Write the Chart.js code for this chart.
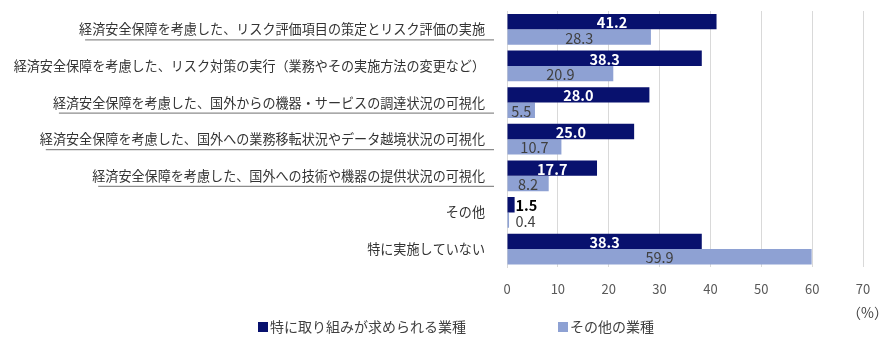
<!DOCTYPE html>
<html><head><meta charset="utf-8">
<script src="https://cdn.jsdelivr.net/npm/chart.js@4/dist/chart.umd.min.js"></script>
<style>html,body{margin:0;padding:0;background:#fff}#wrap{width:896px;height:347px;position:relative}</style>
</head><body><div id="wrap"><canvas id="c" width="896" height="347"></canvas></div>
<script>
const categories = [
  "経済安全保障を考慮した、リスク評価項目の策定とリスク評価の実施",
  "経済安全保障を考慮した、リスク対策の実行（業務やその実施方法の変更など）",
  "経済安全保障を考慮した、国外からの機器・サービスの調達状況の可視化",
  "経済安全保障を考慮した、国外への業務移転状況やデータ越境状況の可視化",
  "経済安全保障を考慮した、国外への技術や機器の提供状況の可視化",
  "その他",
  "特に実施していない"
];
const underlined = [true, false, true, true, true, false, false];
const seriesNames = ["特に取り組みが求められる業種", "その他の業種"];
const priorityValues = [41.2, 38.3, 28.0, 25.0, 17.7, 1.5, 38.3];
const otherValues = [28.3, 20.9, 5.5, 10.7, 8.2, 0.4, 59.9];
const xTicks = [0, 10, 20, 30, 40, 50, 60, 70];
const unitLabel = "（%）";

const DARK = "#08116e", LIGHT = "#8ea1d3";
const FONT = "'Noto Sans CJK JP', 'Noto Sans', sans-serif";
const LABEL_SIZE = 13.1;

const extras = {
  id: "extras",
  afterDraw(chart) {
    const ctx = chart.ctx;
    const ys = chart.scales.y;
    ctx.save();
    ctx.font = LABEL_SIZE + "px " + FONT;
    ctx.strokeStyle = "#8c8c8c";
    ctx.lineWidth = 1.3;
    categories.forEach((c, i) => {
      if (!underlined[i]) return;
      const w = ctx.measureText(c).width;
      const xr = 493;
      const y = ys.getPixelForTick(i) + 10.5;
      ctx.beginPath(); ctx.moveTo(xr - w - 2, y); ctx.lineTo(xr + 1, y); ctx.stroke();
    });
    ctx.restore();
    ctx.save();
    ctx.font = "14px " + FONT;
    ctx.fillStyle = "#404040";
    ctx.textAlign = "right"; ctx.textBaseline = "middle";
    ctx.fillText(unitLabel, 888, 313);
    ctx.restore();
    ctx.save();
    ctx.font = "14px " + FONT;
    ctx.textBaseline = "middle";
    const lx = [258, 558];
    chart.data.datasets.forEach((ds, i) => {
      ctx.fillStyle = ds.backgroundColor;
      ctx.fillRect(lx[i], 322, 10, 10);
      ctx.fillStyle = "#404040";
      ctx.textAlign = "left";
      ctx.fillText(ds.label, lx[i] + 12, 327);
    });
    ctx.restore();
  },
  afterDatasetsDraw(chart) {
    const ctx = chart.ctx;
    ctx.save();
    ctx.textAlign = "center"; ctx.textBaseline = "middle";
    chart.data.datasets.forEach((ds, di) => {
      const meta = chart.getDatasetMeta(di);
      meta.data.forEach((bar, i) => {
        const v = ds.data[i];
        const txt = v.toFixed(1);
        ctx.font = (di === 0 ? "bold 14.5px " : "14.5px ") + FONT;
        const tw = ctx.measureText(txt).width;
        let cx = (bar.x + bar.base) / 2;
        const bw = bar.x - bar.base;
        let inside = true;
        if (bw < tw + 4) { cx = bar.base + 8 + tw / 2; inside = false; }
        if (di === 0) ctx.fillStyle = inside ? "#ffffff" : "#000000";
        else ctx.fillStyle = "#404040";
        ctx.fillText(txt, cx, bar.y + 1);
      });
    });
    ctx.restore();
  }
};

new Chart(document.getElementById("c"), {
  type: "bar",
  data: {
    labels: categories,
    datasets: [
      { label: seriesNames[0], data: priorityValues, backgroundColor: DARK, barPercentage: 1, categoryPercentage: 0.84 },
      { label: seriesNames[1], data: otherValues, backgroundColor: LIGHT, barPercentage: 1, categoryPercentage: 0.84 }
    ]
  },
  options: {
    indexAxis: "y",
    responsive: false,
    animation: false,
    layout: { padding: { left: 0, right: 33, top: 11, bottom: 36 } },
    plugins: { legend: { display: false }, tooltip: { enabled: false } },
    scales: {
      x: {
        min: 0, max: 70,
        afterBuildTicks(s) { s.ticks = xTicks.map(v => ({ value: v })); },
        afterFit(s) { s.paddingLeft = 0; s.paddingRight = 0; },
        grid: { color: "#d9d9d9", drawTicks: false },
        border: { display: false },
        ticks: { color: "#595959", font: { family: FONT, size: 13 }, padding: 14 }
      },
      y: {
        afterFit(s) { s.width = 507; s.paddingTop = 0; s.paddingBottom = 0; },
        grid: { display: false },
        border: { display: true, color: "#d9d9d9" },
        ticks: { color: "#333333", font: { family: FONT, size: LABEL_SIZE }, padding: 14, crossAlign: "near", autoSkip: false }
      }
    }
  },
  plugins: [extras]
});
</script></body></html>
